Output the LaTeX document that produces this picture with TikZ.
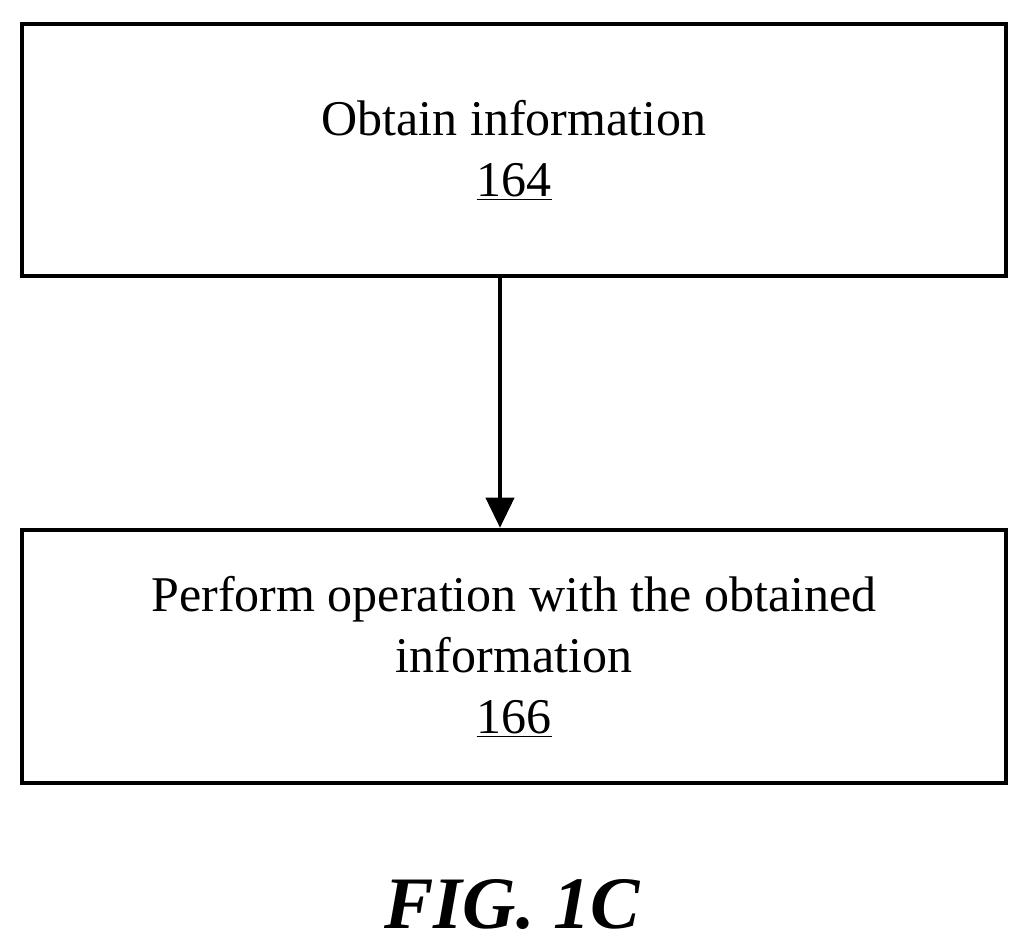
\documentclass[tikz,border=0pt]{standalone}
\usepackage{fontspec}
\setmainfont{Liberation Serif}
\usetikzlibrary{arrows.meta}
\tikzset{stepbox/.style={draw,line width=4.5bp,minimum width=984bp,align=center,inner sep=0pt,font=\fontsize{50bp}{61bp}\selectfont}}
\begin{document}
\begin{tikzpicture}[>={Triangle[length=30bp,width=28bp]},line join=miter,]
%%
\useasboundingbox (0bp,0bp) rectangle (1032bp,950bp);
\node (node_0) at (514.0bp,800.0bp) [stepbox,minimum height=252bp] {Obtain information\\\underline{164}};
  \node (node_1) at (514.0bp,293.5bp) [stepbox,minimum height=253bp] {Perform operation with the obtained\\information\\\underline{166}};
  \node (fig) at (512.0bp,45.0bp) [draw=none,font=\fontsize{74bp}{80bp}\selectfont\bfseries\itshape] {FIG. 1C};
  \draw [black,line width=4bp,->] ([xshift=-14bp]node_0.south) -- ([xshift=-14bp]node_1.north);
%
\end{tikzpicture}
\end{document}
